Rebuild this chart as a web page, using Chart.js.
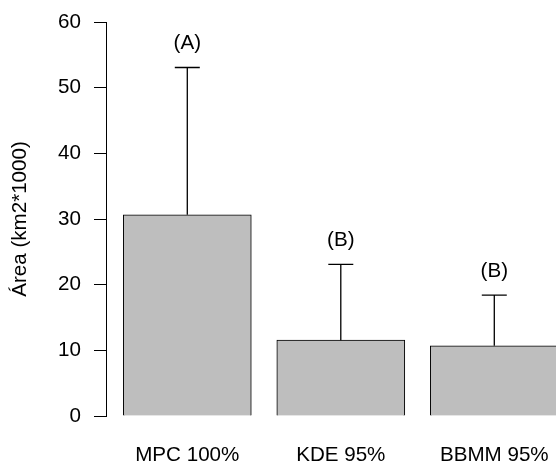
<!DOCTYPE html>
<html>
<head>
<meta charset="utf-8">
<script src="https://cdn.jsdelivr.net/npm/chart.js@4/dist/chart.umd.min.js"></script>
<style>
  html, body { margin: 0; padding: 0; background: #fff; overflow: hidden; }
  #wrap { width: 556px; height: 464px; }
</style>
</head>
<body>
<div id="wrap"><canvas id="chart" width="556" height="464"></canvas></div>
<script>
// data
const categories = ['MPC 100%', 'KDE 95%', 'BBMM 95%'];
const areaMeans = [30.65, 11.55, 10.68];
const areaUpper = [53.07, 23.09, 18.4];   // top of error bar
const groupLetters = ['(A)', '(B)', '(B)'];
const yTicks = [0, 10, 20, 30, 40, 50, 60];

const FONT = { family: '"Liberation Sans", Arial, sans-serif', size: 20.6 };

// error bars + letters drawn through the chart scales
const errorBars = {
    id: 'errorBars',
    afterDatasetsDraw(chart) {
        const ctx = chart.ctx;
        const xs = chart.scales.x;
        const ys = chart.scales.y;
        ctx.save();
        ctx.strokeStyle = '#000';
        ctx.lineWidth = 1.3;
        ctx.fillStyle = '#000';
        ctx.font = `${FONT.size}px ${FONT.family}`;
        ctx.textAlign = 'center';
        ctx.textBaseline = 'middle';
        categories.forEach((c, i) => {
            const x = xs.getPixelForValue(i + 1);
            const y0 = ys.getPixelForValue(areaMeans[i]);
            const y1 = ys.getPixelForValue(areaUpper[i]);
            ctx.beginPath();
            ctx.moveTo(x, y0);
            ctx.lineTo(x, y1);
            ctx.moveTo(x - 12.5, y1);
            ctx.lineTo(x + 12.5, y1);
            ctx.stroke();
            ctx.fillText(groupLetters[i], x, ys.getPixelForValue(areaUpper[i] + 3.7));
        });
        ctx.restore();
    }
};

new Chart(document.getElementById('chart'), {
    type: 'bar',
    data: {
        datasets: [{
            data: categories.map((c, i) => ({ x: i + 1, y: areaMeans[i] })),
            backgroundColor: '#bebebe',
            borderColor: '#000',
            borderWidth: 1,
            barThickness: 128
        }]
    },
    options: {
        responsive: false,
        animation: false,
        layout: { padding: { top: 22, left: 0, right: 0, bottom: 0 } },
        plugins: { legend: { display: false }, tooltip: { enabled: false } },
        scales: {
            x: {
                type: 'linear',
                offset: false,
                min: 0.4704,
                max: 3.402,
                grid: { display: false, offset: false },
                border: { display: false },
                afterBuildTicks: s => { s.ticks = categories.map((c, i) => ({ value: i + 1 })); },
                afterFit: s => { s.height = 48; s.paddingLeft = 0; s.paddingRight = 0; },
                ticks: {
                    autoSkip: false,
                    maxRotation: 0,
                    padding: 19,
                    color: '#000',
                    font: FONT,
                    callback: v => categories[v - 1]
                }
            },
            y: {
                min: 0,
                max: 60,
                afterBuildTicks: s => { s.ticks = yTicks.map(v => ({ value: v })); },
                afterFit: s => { s.width = 106; s.paddingTop = 0; s.paddingBottom = 0; },
                border: { display: true, color: '#000', width: 1 },
                grid: { drawOnChartArea: false, drawTicks: true, tickLength: 12, color: '#000' },
                ticks: { color: '#000', font: FONT, padding: 13 },
                title: {
                    display: true,
                    text: 'Área (km2*1000)',
                    color: '#000',
                    font: FONT,
                    padding: { top: 8, bottom: 0 }
                }
            }
        }
    },
    plugins: [errorBars]
});
</script>
</body>
</html>
